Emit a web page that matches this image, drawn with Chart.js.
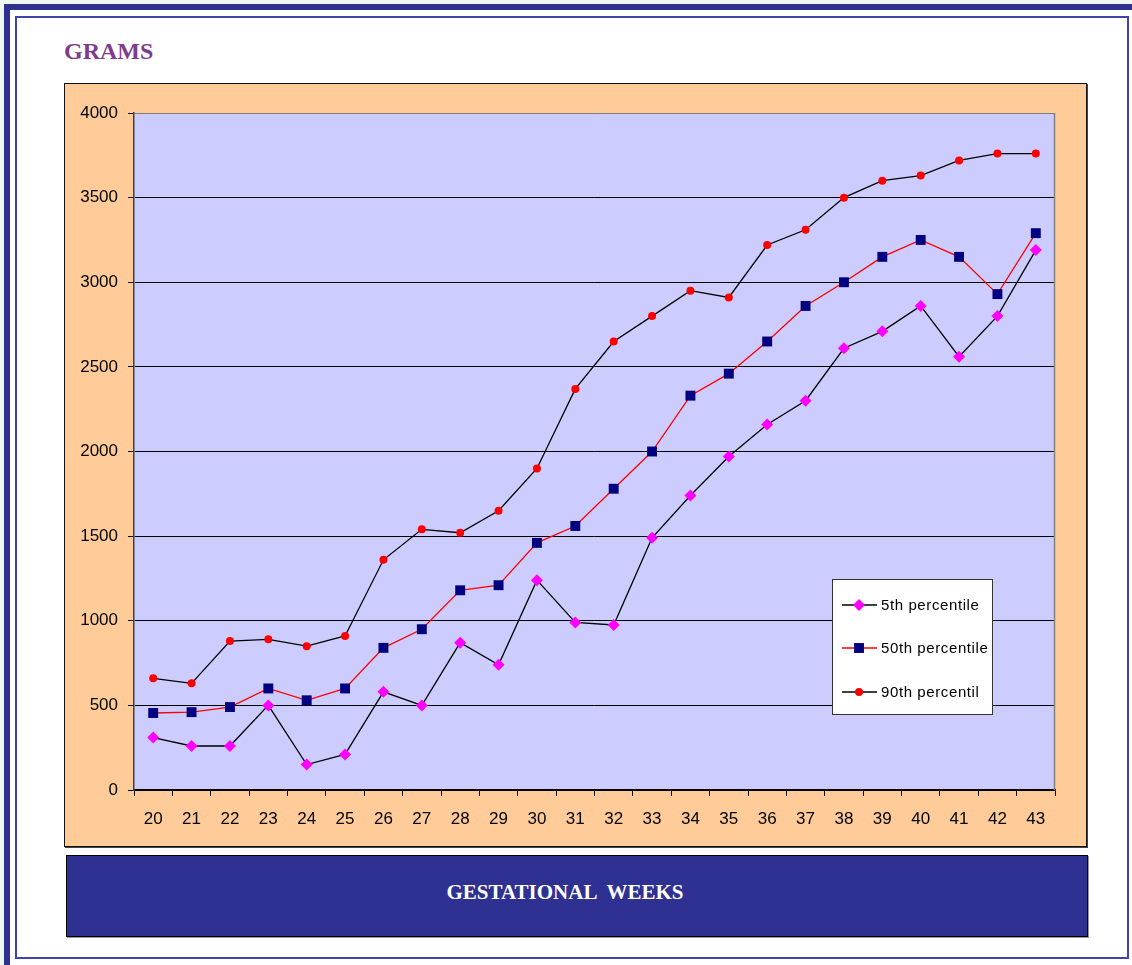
<!DOCTYPE html>
<html>
<head>
<meta charset="utf-8">
<script src="https://cdn.jsdelivr.net/npm/chart.js@4/dist/chart.umd.min.js"></script>
<style>
  html, body { margin: 0; padding: 0; }
  body { width: 1132px; height: 965px; background: #F0F8F4; position: relative; overflow: hidden; }
  #outer { position: absolute; left: 4px; top: 4px; width: 1134px; height: 965px; border-top: 6px solid #2E3192; border-left: 6px solid #2E3192; background: #fff; }
  #inner { position: absolute; left: 15px; top: 16px; width: 1110px; height: 939px; border: 2px solid #4343B0; background: #fff; }
  #title { position: absolute; left: 64px; top: 39px; font: bold 24px "Liberation Serif", "Times New Roman", serif; line-height: 24px; color: #7D3C8E; }
  #panel { position: absolute; left: 64px; top: 83px; width: 1021px; height: 762px; background: #FFCC99; border: 1px solid #111; box-shadow: 1px 1px 0 #444; }
  #panel canvas { position: absolute; left: 0; top: 0; }
  #banner { position: absolute; left: 66px; top: 855px; width: 1020px; height: 80px; background: #2E3192; border: 1px solid #000; box-shadow: 1px 1px 0 #999; }
  #banner span { position: absolute; left: 0; width: 996px; top: 26px; text-align: center; font: bold 21px "Liberation Serif", "Times New Roman", serif; line-height: 21px; color: #fff; white-space: pre; }
</style>
</head>
<body>
<div id="outer"></div>
<div id="inner"></div>
<div id="title">GRAMS</div>
<div id="panel"><canvas id="c" width="1021" height="762"></canvas></div>
<div id="banner"><span>GESTATIONAL  WEEKS</span></div>
<script>
const weeks = ['20','21','22','23','24','25','26','27','28','29','30','31','32','33','34','35','36','37','38','39','40','41','42','43'];
const p5  = [310, 260, 260, 500, 150, 210, 580, 500, 870, 740, 1240, 990, 975, 1490, 1740, 1970, 2160, 2300, 2610, 2710, 2860, 2560, 2800, 3190];
const p50 = [455, 460, 490, 600, 530, 600, 840, 950, 1180, 1210, 1460, 1560, 1780, 2000, 2330, 2460, 2650, 2860, 3000, 3150, 3250, 3150, 2930, 3290];
const p90 = [660, 630, 880, 890, 850, 910, 1360, 1540, 1520, 1650, 1900, 2370, 2650, 2800, 2950, 2910, 3220, 3310, 3500, 3600, 3630, 3720, 3760, 3760];
const seriesNames = ['5th percentile', '50th percentile', '90th percentil'];
const yTicks = [0, 500, 1000, 1500, 2000, 2500, 3000, 3500, 4000];

const FONT = '"Liberation Sans", Arial, sans-serif';

const plotBg = {
  id: 'plotBg',
  beforeDraw(chart) {
    const {ctx, chartArea: a} = chart;
    ctx.save();
    ctx.fillStyle = '#CCCCFF';
    ctx.fillRect(a.left, a.top, a.right - a.left, a.bottom - a.top);
    ctx.restore();
  },
  beforeDatasetsDraw(chart) {
    const {ctx, chartArea: a} = chart;
    ctx.save();
    ctx.strokeStyle = '#808080';
    ctx.lineWidth = 1.5;
    ctx.beginPath();
    ctx.moveTo(a.right - 0.5, a.top);
    ctx.lineTo(a.right - 0.5, a.bottom);
    ctx.stroke();
    ctx.restore();
  }
};

function drawMarker(ctx, style, x, y, color, r) {
  ctx.fillStyle = color;
  ctx.beginPath();
  if (style === 'rectRot') {
    ctx.moveTo(x, y - r); ctx.lineTo(x + r, y); ctx.lineTo(x, y + r); ctx.lineTo(x - r, y); ctx.closePath();
  } else if (style === 'rect') {
    const s = r * Math.SQRT1_2;
    ctx.rect(x - s, y - s, 2 * s, 2 * s);
  } else {
    ctx.arc(x, y, r, 0, Math.PI * 2);
  }
  ctx.fill();
}

const boxLegend = {
  id: 'boxLegend',
  afterDraw(chart) {
    const {ctx, chartArea: a} = chart;
    const bx = a.right - 223, by = a.top + 466, bw = 160, bh = 135;
    ctx.save();
    ctx.fillStyle = '#fff';
    ctx.fillRect(bx, by, bw, bh);
    ctx.strokeStyle = '#333';
    ctx.lineWidth = 1;
    ctx.strokeRect(bx + 0.5, by + 0.5, bw, bh);
    const rows = [26, 69, 113];
    chart.data.datasets.forEach((ds, i) => {
      const y = by + rows[i];
      ctx.strokeStyle = ds.borderColor;
      ctx.lineWidth = 1.3;
      ctx.beginPath();
      ctx.moveTo(bx + 10, y);
      ctx.lineTo(bx + 45, y);
      ctx.stroke();
      drawMarker(ctx, ds.pointStyle, bx + 27, y, ds.pointBackgroundColor, ds.pointRadius);
      ctx.fillStyle = '#000';
      ctx.font = '15px ' + FONT;
      if ('letterSpacing' in ctx) ctx.letterSpacing = '0.6px';
      ctx.textBaseline = 'middle';
      ctx.textAlign = 'left';
      ctx.fillText(ds.label, bx + 49, y + 1);
    });
    ctx.restore();
  }
};

new Chart(document.getElementById('c'), {
  type: 'line',
  data: {
    labels: weeks,
    datasets: [
      { label: seriesNames[0], data: p5, borderColor: '#000000', borderWidth: 1.3,
        pointStyle: 'rectRot', pointRadius: 6, pointBackgroundColor: '#FF00FF', pointBorderWidth: 0, pointBorderColor: '#FF00FF', tension: 0 },
      { label: seriesNames[1], data: p50, borderColor: '#FF0000', borderWidth: 1.3,
        pointStyle: 'rect', pointRadius: 7, pointBackgroundColor: '#000080', pointBorderWidth: 0, pointBorderColor: '#000080', tension: 0 },
      { label: seriesNames[2], data: p90, borderColor: '#000000', borderWidth: 1.3,
        pointStyle: 'circle', pointRadius: 4, pointBackgroundColor: '#FF0000', pointBorderWidth: 0, pointBorderColor: '#FF0000', tension: 0 }
    ]
  },
  options: {
    responsive: false,
    animation: false,
    devicePixelRatio: 1,
    layout: { padding: { top: 29, right: 31, left: 0, bottom: 0 } },
    plugins: { legend: { display: false }, tooltip: { enabled: false }, title: { display: false } },
    elements: { point: { hoverRadius: 6 } },
    scales: {
      x: {
        type: 'category',
        offset: true,
        grid: { display: true, offset: true, drawOnChartArea: false, drawTicks: true, tickLength: 6, color: '#000', lineWidth: 1 },
        border: { display: true, color: '#000', width: 1.5 },
        ticks: { color: '#000', font: { family: FONT, size: 17 }, padding: 13, maxRotation: 0, autoSkip: false },
        afterFit(s) { s.height = 56; }
      },
      y: {
        min: 0, max: 4000,
        afterBuildTicks(s) { s.ticks = yTicks.map(v => ({ value: v })); },
        grid: {
          color: (c) => (c.tick && c.tick.value === 4000) ? '#808080' : '#000',
          lineWidth: 1, drawTicks: true, tickLength: 6, tickColor: '#000'
        },
        border: { display: true, color: '#404040', width: 1.5 },
        ticks: { color: '#000', font: { family: FONT, size: 17 }, padding: 10, callback: (v) => String(v) },
        afterFit(s) { s.width = 69; }
      }
    }
  },
  plugins: [plotBg, boxLegend]
});
</script>
</body>
</html>
